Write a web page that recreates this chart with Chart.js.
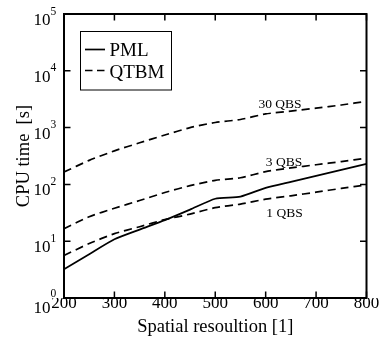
<!DOCTYPE html>
<html>
<head>
<meta charset="utf-8">
<script src="https://cdn.jsdelivr.net/npm/chart.js@4/dist/chart.umd.min.js"></script>
<style>
  html, body { margin: 0; padding: 0; background: #fff; }
  canvas { display: block; }
</style>
</head>
<body>
<canvas id="cpuChart" width="384" height="339"></canvas>
<script>
// resolution on x, cpu seconds on y (log)
var resolution = [200, 250, 300, 350, 400, 450, 500, 550, 600, 650, 700, 750, 800];
var pmlTime = [3.2, 5.9, 10.8, 16, 23.5, 36, 56, 61, 87, 111, 141, 180, 230];
var qtbm1Time = [5.6, 9.1, 13.6, 18, 24, 30, 39, 45, 55, 63, 73, 85, 98];
var qtbm3Time = [16.6, 27, 38, 52, 72, 95, 118, 131, 168, 195, 222, 252, 290];
var qtbm30Time = [165, 265, 390, 540, 740, 1000, 1230, 1390, 1740, 1950, 2200, 2500, 2900];

var xTicks = [200, 300, 400, 500, 600, 700, 800];
var yDecades = [0, 1, 2, 3, 4, 5];

var legendLabels = ["PML", "QTBM"];
var curveLabels = ["30 QBS", "3 QBS", "1 QBS"];

(function() {
  "use strict";

  var SERIF = "'Liberation Serif', 'DejaVu Serif', serif";
  var DASH = [8, 5];

  var toPoints = function(ys) {
    return resolution.map(function(r, i) {
      return { x: r, y: ys[i] };
    });
  };

  var line = function(label, ys, dashed) {
    return {
      label: label,
      data: toPoints(ys),
      borderColor: "#000",
      borderWidth: 1.7,
      borderDash: dashed ? DASH : [],
      pointRadius: 0,
      tension: 0.2,
      fill: false
    };
  };

  // box, inward ticks, y labels, titles, legend, curve notes
  var decorations = {
    id: "decorations",
    afterDraw: function(chart) {
      var ctx = chart.ctx,
          a = chart.chartArea,
          xs = chart.scales.x,
          ys = chart.scales.y,
          tl = 6.5;

      ctx.save();
      ctx.strokeStyle = "#000";
      ctx.fillStyle = "#000";
      ctx.lineWidth = 2;
      ctx.strokeRect(a.left, a.top, a.right - a.left, a.bottom - a.top);

      ctx.lineWidth = 1.5;
      ctx.beginPath();
      xTicks.forEach(function(v) {
        var px = xs.getPixelForValue(v);
        ctx.moveTo(px, a.bottom); ctx.lineTo(px, a.bottom - tl);
        ctx.moveTo(px, a.top); ctx.lineTo(px, a.top + tl);
      });
      yDecades.forEach(function(k) {
        var py = ys.getPixelForValue(Math.pow(10, k));
        ctx.moveTo(a.left, py); ctx.lineTo(a.left + tl, py);
        ctx.moveTo(a.right, py); ctx.lineTo(a.right - tl, py);
      });
      ctx.stroke();

      // 10^k labels
      yDecades.forEach(function(k) {
        var py = ys.getPixelForValue(Math.pow(10, k));
        var shift = k === 0 ? 3.5 : 0;
        ctx.textAlign = "right";
        ctx.textBaseline = "alphabetic";
        ctx.font = "17px " + SERIF;
        ctx.fillText("10", 50.5, py + 11 + shift);
        ctx.textAlign = "left";
        ctx.font = "11.5px " + SERIF;
        ctx.fillText(String(k), 50.5, py + 0.5 - shift * 0.4);
      });

      // axis titles
      ctx.font = "18.5px " + SERIF;
      ctx.textAlign = "center";
      ctx.textBaseline = "alphabetic";
      ctx.fillText("Spatial resoultion [1]", (a.left + a.right) / 2, 332);
      ctx.save();
      ctx.translate(28.5, (a.top + a.bottom) / 2);
      ctx.rotate(-Math.PI / 2);
      ctx.fillText("CPU time  [s]", 0, 0);
      ctx.restore();

      // legend
      ctx.lineWidth = 1;
      ctx.strokeRect(80.5, 31.5, 91, 58.5);
      ctx.lineWidth = 1.7;
      ctx.beginPath();
      ctx.moveTo(85, 49.5); ctx.lineTo(105, 49.5);
      ctx.stroke();
      ctx.setLineDash([7.5, 4.5]);
      ctx.beginPath();
      ctx.moveTo(85, 70.5); ctx.lineTo(105, 70.5);
      ctx.stroke();
      ctx.setLineDash([]);
      ctx.font = "19px " + SERIF;
      ctx.textAlign = "left";
      ctx.fillText(legendLabels[0], 109.5, 55.5);
      ctx.fillText(legendLabels[1], 109.5, 77.5);

      // curve notes
      ctx.font = "13.5px " + SERIF;
      ctx.textAlign = "center";
      ctx.fillText(curveLabels[0], 280, 108);
      ctx.fillText(curveLabels[1], 284, 166);
      ctx.fillText(curveLabels[2], 284.5, 216.5);

      ctx.restore();
    }
  };

  new Chart(document.getElementById("cpuChart"), {
    type: "line",
    data: {
      datasets: [
        line("PML", pmlTime, false),
        line("1 QBS", qtbm1Time, true),
        line("3 QBS", qtbm3Time, true),
        line("30 QBS", qtbm30Time, true)
      ]
    },
    options: {
      responsive: false,
      animation: false,
      devicePixelRatio: 1,
      layout: { padding: { left: 0, top: 14, right: 17.5, bottom: 0 } },
      plugins: {
        legend: { display: false },
        tooltip: { enabled: false }
      },
      scales: {
        x: {
          type: "linear",
          min: 200,
          max: 800,
          afterBuildTicks: function(scale) {
            scale.ticks = xTicks.map(function(v) { return { value: v }; });
          },
          afterFit: function(scale) { scale.height = 41; },
          ticks: {
            color: "#000",
            padding: -5,
            maxRotation: 0,
            font: { family: SERIF, size: 17 }
          },
          grid: { display: false, drawTicks: false },
          border: { display: false }
        },
        y: {
          type: "logarithmic",
          min: 1,
          max: 100000,
          afterFit: function(scale) { scale.width = 64; },
          ticks: { display: false },
          grid: { display: false, drawTicks: false },
          border: { display: false }
        }
      }
    },
    plugins: [decorations]
  });
})();
</script>
</body>
</html>
